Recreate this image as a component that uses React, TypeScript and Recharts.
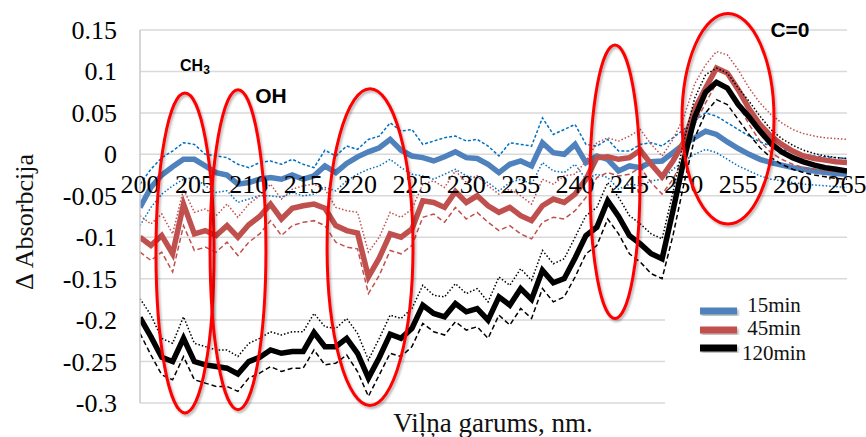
import React from 'react';
import { LineChart, Line, XAxis, YAxis, CartesianGrid } from 'recharts';

// ---------- data ----------
const WAVELENGTH = [
  200, 201, 202, 203, 204, 205, 206, 207, 208, 209,
  210, 211, 212, 213, 214, 215, 216, 217, 218, 219,
  220, 221, 222, 223, 224, 225, 226, 227, 228, 229,
  230, 231, 232, 233, 234, 235, 236, 237, 238, 239,
  240, 241, 242, 243, 244, 245, 246, 247, 248, 249,
  250, 251, 252, 253, 254, 255, 256, 257, 258, 259,
  260, 261, 262, 263, 264, 265,
];

const MAIN_15 = [
  -0.064, -0.040, -0.025, -0.015, -0.006, -0.006, -0.014, -0.022, -0.025, -0.036,
  -0.034, -0.030, -0.028, -0.030, -0.025, -0.030, -0.026, -0.014, -0.022, -0.011,
  -0.003, 0.003, 0.008, 0.018, 0.005, -0.002, -0.004, -0.008, -0.003, 0.003,
  -0.004, -0.005, -0.012, -0.022, -0.012, -0.008, -0.014, 0.014, 0.002, 0.000,
  0.012, -0.010, -0.002, -0.006, -0.020, -0.014, -0.016, -0.009, -0.008, 0.002,
  0.012, 0.020, 0.028, 0.024, 0.015, 0.007, 0.000, -0.006, -0.010, -0.013,
  -0.016, -0.018, -0.020, -0.022, -0.023, -0.024,
];
const UPPER_15 = [
  -0.036, -0.018, -0.004, 0.004, 0.014, 0.012, 0.000, -0.002, -0.004, -0.012,
  -0.016, -0.010, -0.008, -0.012, -0.006, -0.012, -0.016, 0.005, -0.002, 0.010,
  0.006, 0.018, 0.022, 0.038, 0.028, 0.030, 0.012, 0.016, 0.020, 0.022,
  0.016, 0.018, 0.010, -0.002, 0.014, 0.012, 0.010, 0.044, 0.024, 0.030,
  0.036, 0.012, 0.010, 0.018, 0.004, 0.004, 0.012, 0.014, 0.010, 0.020,
  0.030, 0.040, 0.050, 0.046, 0.038, 0.030, 0.022, 0.015, 0.010, 0.006,
  0.003, 0.000, -0.002, -0.003, -0.004, -0.005,
];
const LOWER_15 = [
  -0.086, -0.064, -0.048, -0.038, -0.030, -0.028, -0.038, -0.046, -0.044, -0.058,
  -0.054, -0.050, -0.050, -0.052, -0.046, -0.050, -0.048, -0.040, -0.044, -0.032,
  -0.024, -0.018, -0.014, -0.006, -0.016, -0.024, -0.026, -0.030, -0.024, -0.018,
  -0.026, -0.028, -0.034, -0.044, -0.034, -0.030, -0.036, -0.010, -0.020, -0.022,
  -0.012, -0.030, -0.024, -0.028, -0.042, -0.036, -0.038, -0.032, -0.030, -0.018,
  -0.008, 0.000, 0.006, 0.002, -0.006, -0.014, -0.020, -0.026, -0.030, -0.032,
  -0.034, -0.036, -0.037, -0.038, -0.039, -0.040,
];

const MAIN_45 = [
  -0.100, -0.110, -0.098, -0.120, -0.060, -0.096, -0.092, -0.098, -0.086, -0.100,
  -0.085, -0.075, -0.060, -0.078, -0.065, -0.062, -0.060, -0.065, -0.086, -0.092,
  -0.095, -0.148, -0.125, -0.096, -0.100, -0.090, -0.056, -0.058, -0.064, -0.045,
  -0.058, -0.050, -0.062, -0.070, -0.064, -0.074, -0.080, -0.062, -0.054, -0.058,
  -0.048, -0.030, -0.004, -0.003, -0.006, -0.004, 0.005, -0.012, -0.027, -0.008,
  0.015, 0.055, 0.080, 0.104, 0.098, 0.078, 0.055, 0.036, 0.022, 0.012,
  0.004, -0.002, -0.005, -0.007, -0.009, -0.010,
];
const UPPER_45 = [
  -0.074, -0.084, -0.072, -0.096, -0.042, -0.070, -0.066, -0.074, -0.060, -0.076,
  -0.060, -0.050, -0.036, -0.054, -0.042, -0.038, -0.036, -0.042, -0.064, -0.068,
  -0.070, -0.118, -0.100, -0.070, -0.076, -0.066, -0.036, -0.032, -0.040, -0.020,
  -0.034, -0.026, -0.038, -0.048, -0.042, -0.050, -0.060, -0.030, -0.036, -0.026,
  -0.024, -0.008, 0.014, 0.020, 0.016, 0.022, 0.030, 0.012, -0.002, 0.018,
  0.045, 0.085, 0.108, 0.124, 0.120, 0.102, 0.080, 0.062, 0.048, 0.038,
  0.030, 0.025, 0.022, 0.020, 0.019, 0.018,
];
const LOWER_45 = [
  -0.118, -0.128, -0.118, -0.142, -0.086, -0.116, -0.112, -0.118, -0.106, -0.122,
  -0.106, -0.096, -0.080, -0.098, -0.086, -0.082, -0.080, -0.086, -0.106, -0.112,
  -0.114, -0.168, -0.146, -0.116, -0.120, -0.110, -0.076, -0.072, -0.082, -0.064,
  -0.078, -0.070, -0.082, -0.092, -0.086, -0.096, -0.102, -0.082, -0.076, -0.078,
  -0.068, -0.052, -0.028, -0.022, -0.026, -0.024, -0.016, -0.034, -0.048, -0.030,
  -0.004, 0.036, 0.062, 0.086, 0.082, 0.060, 0.036, 0.016, 0.002, -0.006,
  -0.012, -0.016, -0.018, -0.020, -0.021, -0.022,
];

const MAIN_120 = [
  -0.197, -0.220, -0.245, -0.250, -0.222, -0.250, -0.254, -0.256, -0.258, -0.265,
  -0.250, -0.245, -0.236, -0.240, -0.238, -0.238, -0.215, -0.232, -0.232, -0.222,
  -0.240, -0.270, -0.245, -0.217, -0.222, -0.210, -0.182, -0.192, -0.196, -0.180,
  -0.190, -0.186, -0.200, -0.172, -0.182, -0.162, -0.175, -0.140, -0.155, -0.150,
  -0.125, -0.098, -0.088, -0.056, -0.075, -0.098, -0.108, -0.120, -0.126, -0.068,
  -0.007, 0.045, 0.075, 0.087, 0.080, 0.060, 0.045, 0.028, 0.013, 0.003,
  -0.004, -0.009, -0.013, -0.016, -0.018, -0.020,
];
const UPPER_120 = [
  -0.174, -0.194, -0.222, -0.228, -0.196, -0.228, -0.232, -0.236, -0.236, -0.244,
  -0.228, -0.222, -0.214, -0.218, -0.214, -0.214, -0.192, -0.208, -0.210, -0.198,
  -0.216, -0.248, -0.222, -0.194, -0.198, -0.186, -0.158, -0.170, -0.172, -0.156,
  -0.168, -0.162, -0.178, -0.148, -0.158, -0.138, -0.152, -0.116, -0.132, -0.126,
  -0.100, -0.074, -0.064, -0.034, -0.052, -0.074, -0.084, -0.096, -0.102, -0.046,
  0.016, 0.068, 0.096, 0.104, 0.098, 0.080, 0.064, 0.046, 0.030, 0.019,
  0.011, 0.005, 0.001, -0.002, -0.004, -0.005,
];
const LOWER_120 = [
  -0.216, -0.242, -0.266, -0.272, -0.244, -0.272, -0.276, -0.280, -0.280, -0.286,
  -0.270, -0.264, -0.256, -0.262, -0.258, -0.258, -0.236, -0.254, -0.252, -0.242,
  -0.262, -0.292, -0.266, -0.240, -0.244, -0.232, -0.204, -0.214, -0.218, -0.202,
  -0.212, -0.208, -0.222, -0.194, -0.206, -0.186, -0.198, -0.162, -0.178, -0.172,
  -0.148, -0.120, -0.110, -0.078, -0.096, -0.120, -0.130, -0.144, -0.150, -0.098,
  -0.036, 0.020, 0.050, 0.066, 0.060, 0.042, 0.024, 0.008, -0.004, -0.012,
  -0.018, -0.022, -0.025, -0.027, -0.029, -0.030,
];

const X_TICKS = [200, 205, 210, 215, 220, 225, 230, 235, 240, 245, 250, 255, 260, 265];
const Y_TICKS = [-0.3, -0.25, -0.2, -0.15, -0.1, -0.05, 0, 0.05, 0.1, 0.15];
const SERIES_NAMES = ['15min', '45min', '120min'];
const X_TITLE = 'Viļņa garums, nm.';
const Y_TITLE = '\u0394 Absorbcija';

// annotation ellipses in data units
const ELLIPSE_CX = [204.14, 209.01, 221.15, 243.67, 254.06];
const ELLIPSE_CY = [-0.119, -0.115, -0.112, -0.033, 0.043];
const ELLIPSE_RX = [2.67, 2.57, 3.95, 2.3, 4.23];
const ELLIPSE_RY = [0.193, 0.193, 0.191, 0.165, 0.127];

// ---------- layout ----------
const W = 866;
const H = 437;
const LEFT = 140;
const RIGHT = 19;
const TOP = 30;
const BOTTOM = 34;
const X_MIN = 200;
const X_MAX = 265;
const Y_MIN = -0.3;
const Y_MAX = 0.15;
const PLOT_W = W - LEFT - RIGHT;
const PLOT_H = H - TOP - BOTTOM;
const sx = (v: number) => LEFT + ((v - X_MIN) / (X_MAX - X_MIN)) * PLOT_W;
const sy = (v: number) => TOP + ((Y_MAX - v) / (Y_MAX - Y_MIN)) * PLOT_H;
const ZERO_Y = sy(0);

const SERIF = 'Liberation Serif';
const SANS = 'Liberation Sans';

const BLUE = '#4f81bd';
const BLUE_THIN = '#0070c0';
const RED = '#c0504d';
const BLACK = '#000000';

const data = WAVELENGTH.map((wl, i) => ({
  wl,
  m15: MAIN_15[i], u15: UPPER_15[i], l15: LOWER_15[i],
  m45: MAIN_45[i], u45: UPPER_45[i], l45: LOWER_45[i],
  m120: MAIN_120[i], u120: UPPER_120[i], l120: LOWER_120[i],
}));

// x labels sit just below the zero line, as in the original (axis crosses at 0)
const XTick = (props: any) => {
  const { x, payload } = props;
  return (
    <text x={x} y={ZERO_Y + 39} textAnchor="middle" fontFamily={SERIF} fontSize={26} fill="#000">
      {payload.value}
    </text>
  );
};

const YTick = (props: any) => {
  const { y, payload } = props;
  return (
    <text x={LEFT - 23} y={y + 9} textAnchor="end" fontFamily={SERIF} fontSize={26} fill="#000">
      {String(payload.value)}
    </text>
  );
};

export default function App() {
  const legendColors = [BLUE, RED, BLACK];
  const swatchY = [311, 330, 348];
  const textY = [312, 335, 360];
  return (
    <div style={{ position: 'absolute', left: 0, top: 0, width: W, height: H, background: '#fff' }}>
      <LineChart width={W} height={H} data={data} margin={{ top: TOP, right: RIGHT, bottom: 0, left: 0 }}>
        <CartesianGrid vertical={false} stroke="#d9d9d9" strokeWidth={1.5} />
        <XAxis
          dataKey="wl"
          type="number"
          domain={[X_MIN, X_MAX]}
          ticks={X_TICKS}
          interval={0}
          height={BOTTOM}
          axisLine={false}
          tickLine={false}
          tick={XTick}
          allowDataOverflow
        />
        <YAxis
          type="number"
          domain={[Y_MIN, Y_MAX]}
          ticks={Y_TICKS}
          interval={0}
          width={LEFT}
          axisLine={{ stroke: '#c8c8c8', strokeWidth: 1.5 }}
          tickLine={false}
          tick={YTick}
          allowDataOverflow
        />
        <Line dataKey="u15" stroke={BLUE_THIN} strokeWidth={1.5} strokeDasharray="3 2" dot={false} isAnimationActive={false} />
        <Line dataKey="l15" stroke={BLUE_THIN} strokeWidth={1.5} strokeDasharray="1.5 2" dot={false} isAnimationActive={false} />
        <Line dataKey="m15" stroke={BLUE} strokeWidth={5.5} dot={false} isAnimationActive={false} />
        <Line dataKey="u45" stroke={RED} strokeWidth={1.5} strokeDasharray="1.5 2" dot={false} isAnimationActive={false} />
        <Line dataKey="l45" stroke={RED} strokeWidth={1.5} strokeDasharray="5 3" dot={false} isAnimationActive={false} />
        <Line dataKey="m45" stroke={RED} strokeWidth={5.5} dot={false} isAnimationActive={false} />
        <Line dataKey="u120" stroke={BLACK} strokeWidth={1.5} strokeDasharray="1.5 2" dot={false} isAnimationActive={false} />
        <Line dataKey="l120" stroke={BLACK} strokeWidth={1.5} strokeDasharray="5 3" dot={false} isAnimationActive={false} />
        <Line dataKey="m120" stroke={BLACK} strokeWidth={5.5} dot={false} isAnimationActive={false} />
      </LineChart>
      <svg width={W} height={H} style={{ position: 'absolute', left: 0, top: 0, pointerEvents: 'none' }}>
        <defs>
          <filter id="sh" x="-20%" y="-20%" width="140%" height="140%">
            <feDropShadow dx="1.5" dy="2" stdDeviation="1.2" floodColor="#000" floodOpacity="0.3" />
          </filter>
        </defs>
        {ELLIPSE_CX.map((cx, i) => (
          <ellipse
            key={i}
            cx={sx(cx)}
            cy={sy(ELLIPSE_CY[i])}
            rx={sx(cx + ELLIPSE_RX[i]) - sx(cx)}
            ry={sy(ELLIPSE_CY[i] - ELLIPSE_RY[i]) - sy(ELLIPSE_CY[i])}
            fill="none"
            stroke="#ff0000"
            strokeWidth={3}
            filter="url(#sh)"
          />
        ))}
        <text x={sx(205.05)} y={sy(0.101)} textAnchor="middle" fontFamily={SANS} fontWeight="bold" fontSize={16} fill="#000">
          CH<tspan fontSize={12} dy={3}>3</tspan>
        </text>
        <text x={sx(212.04)} y={sy(0.062)} textAnchor="middle" fontFamily={SANS} fontWeight="bold" fontSize={21} fill="#000">OH</text>
        <text x={sx(259.76)} y={sy(0.141)} textAnchor="middle" fontFamily={SANS} fontWeight="bold" fontSize={21} fill="#000">C=0</text>

        <text
          x={33}
          y={222}
          transform="rotate(-90 33 222)"
          textAnchor="middle"
          fontFamily={SERIF}
          fontSize={26}
          fill="#111"
        >
          {Y_TITLE}
        </text>
        <text x={493} y={432} textAnchor="middle" fontFamily={SERIF} fontSize={27} fill="#111">{X_TITLE}</text>

        <rect x={665} y={288} width={184} height={120} fill="#fff" />
        {SERIES_NAMES.map((name, i) => (
          <g key={name}>
            <rect x={700} y={swatchY[i] - 3.5} width={37} height={7} fill={legendColors[i]} filter="url(#sh)" />
            <text x={774} y={textY[i]} textAnchor="middle" fontFamily={SERIF} fontSize={21} fill="#111">{name}</text>
          </g>
        ))}
      </svg>
    </div>
  );
}
